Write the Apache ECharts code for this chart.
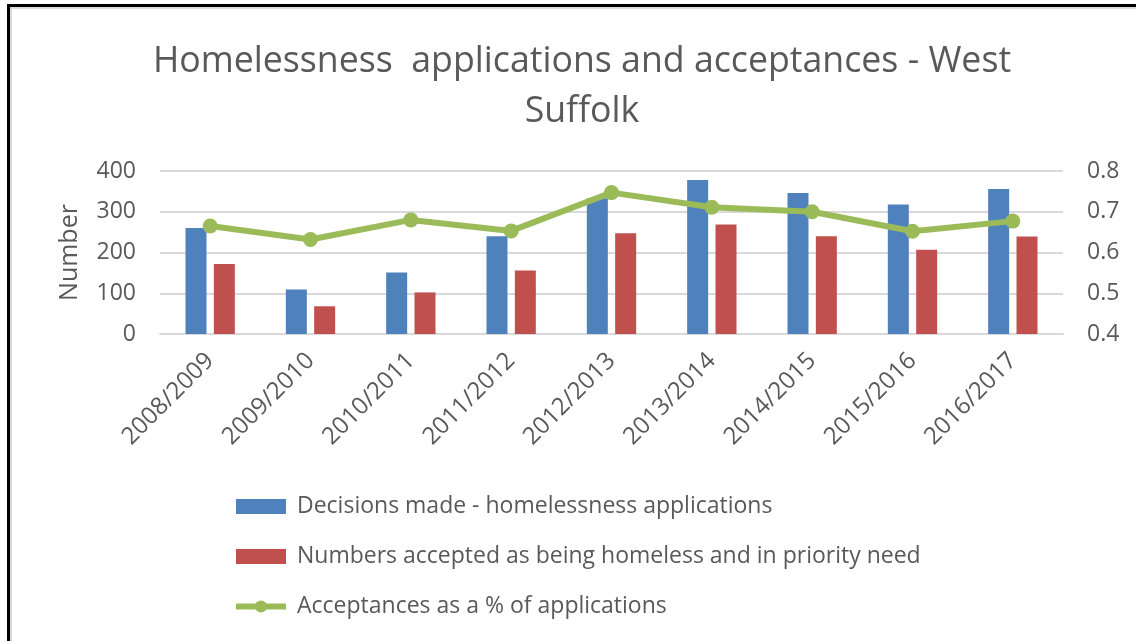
<!DOCTYPE html>
<html>
<head>
<meta charset="utf-8">
<script src="https://cdn.jsdelivr.net/npm/echarts@6/dist/echarts.min.js"></script>
<style>
    html, body { margin: 0; padding: 0; background: #fff; }
    #frame {
        position: absolute; left: 7px; top: 4px; width: 1129px; height: 637px;
        border-top: 3px solid #000; border-left: 3px solid #000;
        box-shadow: inset 2px 2px 0 #d9d9d9;
    }
    #chart-container { position: absolute; left: 0; top: 0; width: 1136px; height: 641px; }
</style>
</head>
<body>
<div id="frame"></div>
<div id="chart-container"></div>
<script>
// Data
const years = ['2008/2009', '2009/2010', '2010/2011', '2011/2012', '2012/2013',
    '2013/2014', '2014/2015', '2015/2016', '2016/2017'];
const decisions = [260, 109, 151, 240, 333, 378, 346, 318, 356];
const accepted = [172, 68, 102, 156, 247, 269, 240, 207, 239];
const acceptRate = [0.665, 0.632, 0.680, 0.653, 0.747, 0.711, 0.700, 0.652, 0.677];
const leftTicks = [0, 100, 200, 300, 400];
const rightTicks = [0.4, 0.5, 0.6, 0.7, 0.8];

const container = echarts.init(document.getElementById('chart-container'));
const font = '"Open Sans", "Noto Sans", sans-serif';
const grey = '#595959';

var cfg = {
    animation: false,
    textStyle: { fontFamily: font },
    title: {
        text: 'Homelessness  applications and acceptances - West\nSuffolk',
        left: 577,
        top: 32,
        textAlign: 'center',
        textStyle: {
            fontFamily: font,
            fontWeight: 'normal',
            fontSize: 35.7,
            lineHeight: 50,
            color: grey
        }
    },
    legend: {
        orient: 'vertical',
        left: 228,
        top: 490,
        itemWidth: 50,
        itemHeight: 15,
        itemGap: 27,
        textStyle: { fontFamily: font, fontSize: 23, color: grey, padding: [0, 0, 0, 6] },
        data: [
            { name: 'Decisions made - homelessness applications', icon: 'rect' },
            { name: 'Numbers accepted as being homeless and in priority need', icon: 'rect' },
            { name: 'Acceptances as a % of applications', lineStyle: { width: 6 } }
        ]
    },
    grid: { left: 160, right: 73, top: 171, bottom: 307 },
    xAxis: {
        type: 'category',
        data: years,
        axisLine: { lineStyle: { color: '#d9d9d9', width: 2 } },
        axisTick: { show: false },
        axisLabel: { rotate: 45, fontSize: 24, color: grey, margin: 23, fontFamily: font }
    },
    yAxis: [{
        type: 'value',
        min: leftTicks[0],
        max: leftTicks[leftTicks.length - 1],
        interval: 100,
        name: 'Number',
        nameLocation: 'middle',
        nameRotate: 90,
        nameGap: 78,
        nameTextStyle: { fontSize: 25, color: grey, fontFamily: font },
        axisLabel: { fontSize: 23, color: grey, margin: 24, fontFamily: font },
        splitLine: { lineStyle: { color: '#d9d9d9', width: 2 } }
    }, {
        type: 'value',
        min: rightTicks[0],
        max: rightTicks[rightTicks.length - 1],
        interval: 0.1,
        axisLabel: { fontSize: 23, color: grey, margin: 24, fontFamily: font },
        splitLine: { show: false }
    }],
    series: [{
        name: 'Decisions made - homelessness applications',
        type: 'bar',
        data: decisions,
        barWidth: 21,
        barGap: '35%',
        itemStyle: { color: '#4F81BD' }
    }, {
        name: 'Numbers accepted as being homeless and in priority need',
        type: 'bar',
        data: accepted,
        barWidth: 21,
        itemStyle: { color: '#C0504D' }
    }, {
        name: 'Acceptances as a % of applications',
        type: 'line',
        yAxisIndex: 1,
        data: acceptRate,
        symbol: 'circle',
        symbolSize: 15,
        lineStyle: { color: '#9BBB59', width: 6 },
        itemStyle: { color: '#9BBB59' }
    }]
};

container.setOption(cfg);
</script>
</body>
</html>
